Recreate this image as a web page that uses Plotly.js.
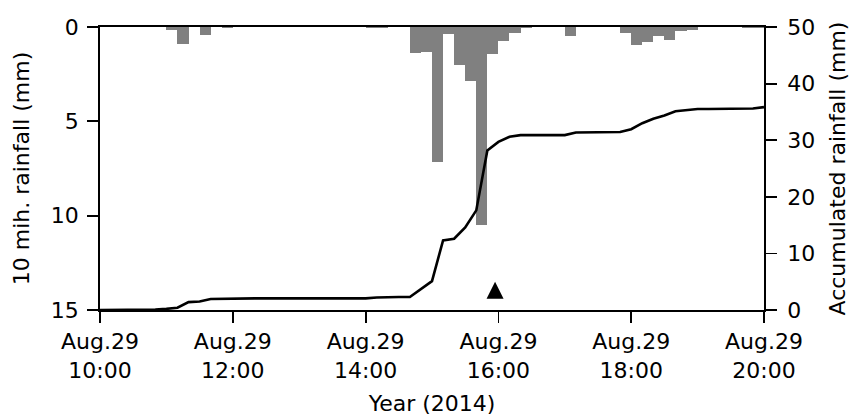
<!DOCTYPE html>
<html>
<head>
<meta charset="utf-8">
<script src="https://cdn.plot.ly/plotly-3.0.1.min.js"></script>
<style>html,body{margin:0;padding:0;background:#fff;}#chart{width:851px;height:417px;}</style>
</head>
<body>
<div id="chart"></div>
<script>
// 10-minute rainfall bins (start time of each bin) and depth in mm
var binStart = [
  "2014-08-29 10:00","2014-08-29 10:10","2014-08-29 10:20","2014-08-29 10:30","2014-08-29 10:40","2014-08-29 10:50",
  "2014-08-29 11:00","2014-08-29 11:10","2014-08-29 11:20","2014-08-29 11:30","2014-08-29 11:40","2014-08-29 11:50",
  "2014-08-29 12:00","2014-08-29 12:10","2014-08-29 12:20","2014-08-29 12:30","2014-08-29 12:40","2014-08-29 12:50",
  "2014-08-29 13:00","2014-08-29 13:10","2014-08-29 13:20","2014-08-29 13:30","2014-08-29 13:40","2014-08-29 13:50",
  "2014-08-29 14:00","2014-08-29 14:10","2014-08-29 14:20","2014-08-29 14:30","2014-08-29 14:40","2014-08-29 14:50",
  "2014-08-29 15:00","2014-08-29 15:10","2014-08-29 15:20","2014-08-29 15:30","2014-08-29 15:40","2014-08-29 15:50",
  "2014-08-29 16:00","2014-08-29 16:10","2014-08-29 16:20","2014-08-29 16:30","2014-08-29 16:40","2014-08-29 16:50",
  "2014-08-29 17:00","2014-08-29 17:10","2014-08-29 17:20","2014-08-29 17:30","2014-08-29 17:40","2014-08-29 17:50",
  "2014-08-29 18:00","2014-08-29 18:10","2014-08-29 18:20","2014-08-29 18:30","2014-08-29 18:40","2014-08-29 18:50",
  "2014-08-29 19:00","2014-08-29 19:10","2014-08-29 19:20","2014-08-29 19:30","2014-08-29 19:40","2014-08-29 19:50"
];
var rain10 = [
  0, 0, 0, 0, 0, 0,
  0.15, 0.9, 0, 0.45, 0, 0.05,
  0, 0, 0, 0, 0, 0,
  0, 0, 0, 0, 0, 0,
  0.05, 0.05, 0, 0, 1.4, 1.3,
  7.15, 0.35, 2.0, 2.85, 10.5, 1.45,
  0.75, 0.3, 0.05, 0, 0, 0,
  0.5, 0, 0, 0, 0, 0.3,
  0.95, 0.8, 0.5, 0.7, 0.2, 0.15,
  0, 0, 0, 0, 0.05, 0.05
];

// Accumulated rainfall (mm) at 10-minute steps
var accTime = binStart.concat(["2014-08-29 20:00"]);
var accRain = [
  0, 0, 0, 0.05, 0.05, 0.1,
  0.2, 0.4, 1.4, 1.5, 1.95, 2.0,
  2.05, 2.05, 2.05, 2.05, 2.05, 2.05,
  2.05, 2.05, 2.05, 2.05, 2.05, 2.05,
  2.05, 2.2, 2.3, 2.3, 2.3, 3.7,
  5.1, 12.3, 12.6, 14.6, 17.6, 28.2,
  29.7, 30.6, 30.9, 30.9, 30.9, 30.9,
  30.9, 31.35, 31.4, 31.4, 31.4, 31.45,
  31.95, 33.0, 33.8, 34.35, 35.1, 35.35,
  35.5, 35.5, 35.5, 35.5, 35.55, 35.6,
  35.85
];

// Event marker
var eventTime = ["2014-08-29 15:57"];
var eventLevel = [5];

// Axis ticks
var tickTimes = ["2014-08-29 10:00","2014-08-29 12:00","2014-08-29 14:00","2014-08-29 16:00","2014-08-29 18:00","2014-08-29 20:00"];
var tickLabels = ["Aug.29<br>10:00","Aug.29<br>12:00","Aug.29<br>14:00","Aug.29<br>16:00","Aug.29<br>18:00","Aug.29<br>20:00"];
var leftTicks = [0, 5, 10, 15];
var rightTicks = [0, 10, 20, 30, 40, 50];

var FONT = "DejaVu Sans";
var FS = 22;

var traces = [
  {
    type: "bar",
    x: binStart,
    y: rain10,
    offset: 0,
    width: 600000,
    marker: {color: "#808080", line: {width: 0}},
    xaxis: "x", yaxis: "y",
    hoverinfo: "skip"
  },
  {
    type: "scatter",
    mode: "lines",
    x: accTime,
    y: accRain,
    line: {color: "#000000", width: 2.6},
    xaxis: "x", yaxis: "y2",
    hoverinfo: "skip"
  },
  {
    type: "scatter",
    mode: "markers",
    x: eventTime,
    y: eventLevel,
    marker: {symbol: "arrow-up", size: 17, color: "#000000", line: {width: 0}},
    xaxis: "x", yaxis: "y2",
    hoverinfo: "skip",
    cliponaxis: false
  }
];

var axisCommon = {
  showgrid: false,
  zeroline: false,
  showline: true,
  linecolor: "#000",
  linewidth: 1.8,
  ticks: "outside",
  ticklen: 11,
  tickwidth: 1.8,
  tickcolor: "#000",
  tickfont: {family: FONT, size: FS, color: "#000"}
};

var layout = {
  width: 851,
  height: 417,
  margin: {l: 100, r: 87, t: 27, b: 107, pad: 0},
  paper_bgcolor: "#fff",
  plot_bgcolor: "#fff",
  showlegend: false,
  bargap: 0,
  font: {family: FONT, size: FS, color: "#000"},
  xaxis: Object.assign({}, axisCommon, {
    type: "date",
    range: ["2014-08-29 10:00", "2014-08-29 20:00"],
    tickmode: "array",
    tickvals: tickTimes,
    ticktext: tickLabels,
    ticklabelstandoff: 0,
    mirror: true,
    title: {text: "Year (2014)", font: {family: FONT, size: FS, color: "#000"}, standoff: 14}
  }),
  yaxis: Object.assign({}, axisCommon, {
    range: [15, 0],
    tickmode: "array",
    tickvals: leftTicks,
    ticktext: leftTicks.map(String),
    ticklabelstandoff: 4,
    mirror: true,
    title: {text: "10 mih. rainfall (mm)", font: {family: FONT, size: FS, color: "#000"}, standoff: 15}
  }),
  yaxis2: Object.assign({}, axisCommon, {
    overlaying: "y",
    side: "right",
    range: [0, 50],
    tickmode: "array",
    tickvals: rightTicks,
    ticktext: rightTicks.map(String),
    ticklabelstandoff: 6,
    title: {text: "Accumulated rainfall (mm)", font: {family: FONT, size: FS, color: "#000"}, standoff: 15}
  })
};

Plotly.newPlot("chart", traces, layout, {displayModeBar: false, staticPlot: true});
</script>
</body>
</html>
